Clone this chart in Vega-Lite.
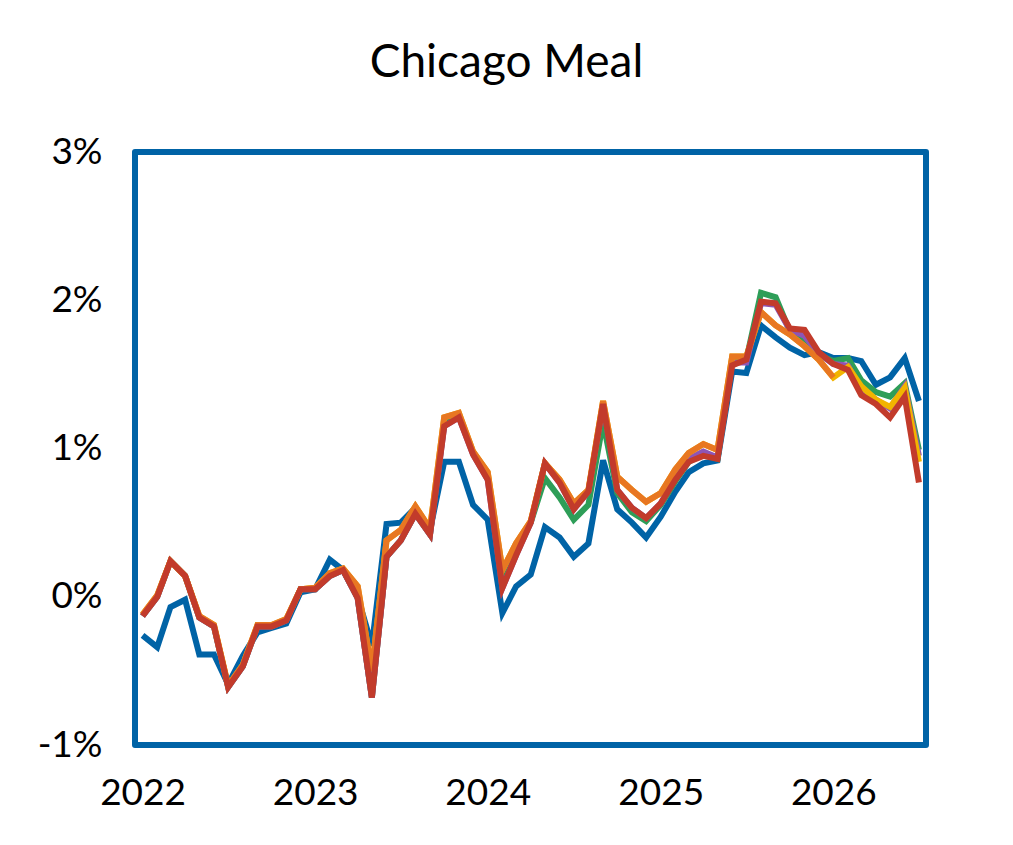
{
  "$schema": "https://vega.github.io/schema/vega-lite/v6.json",
  "description": "Chicago Meal: monthly percentage series, 2022 to mid-2026.",
  "autosize": "none",
  "width": 791,
  "height": 593,
  "padding": {"left": 135, "top": 152, "right": 87, "bottom": 100},
  "background": "white",
  "config": {
    "font": "Lato",
    "view": {"stroke": "#0063a6", "strokeWidth": 6, "strokeJoin": "round"},
    "axis": {
      "labelFont": "Lato",
      "labelFontSize": 37,
      "labelColor": "black",
      "domain": false,
      "ticks": false,
      "grid": false,
      "title": null
    }
  },
  "title": {
    "text": "Chicago Meal",
    "font": "Lato",
    "fontSize": 46,
    "fontWeight": "normal",
    "color": "black",
    "anchor": "middle",
    "offset": 46,
    "dx": -24
  },
  "data": {
    "values": [
      {"date": "2022-01-01", "s1": -0.26, "s2": -0.13, "s3": -0.13, "s4": -0.12, "s5": -0.12, "s6": -0.13},
      {"date": "2022-02-01", "s1": -0.34, "s2": 0.0, "s3": 0.0, "s4": 0.01, "s5": 0.01, "s6": 0.0},
      {"date": "2022-03-01", "s1": -0.07, "s2": 0.24, "s3": 0.24, "s4": 0.24, "s5": 0.24, "s6": 0.24},
      {"date": "2022-04-01", "s1": -0.02, "s2": 0.14, "s3": 0.14, "s4": 0.14, "s5": 0.14, "s6": 0.14},
      {"date": "2022-05-01", "s1": -0.39, "s2": -0.14, "s3": -0.14, "s4": -0.13, "s5": -0.13, "s6": -0.14},
      {"date": "2022-06-01", "s1": -0.39, "s2": -0.2, "s3": -0.2, "s4": -0.19, "s5": -0.19, "s6": -0.2},
      {"date": "2022-07-01", "s1": -0.59, "s2": -0.61, "s3": -0.61, "s4": -0.6, "s5": -0.6, "s6": -0.61},
      {"date": "2022-08-01", "s1": -0.4, "s2": -0.47, "s3": -0.47, "s4": -0.46, "s5": -0.46, "s6": -0.47},
      {"date": "2022-09-01", "s1": -0.24, "s2": -0.2, "s3": -0.2, "s4": -0.19, "s5": -0.19, "s6": -0.2},
      {"date": "2022-10-01", "s1": -0.21, "s2": -0.2, "s3": -0.2, "s4": -0.19, "s5": -0.19, "s6": -0.2},
      {"date": "2022-11-01", "s1": -0.18, "s2": -0.16, "s3": -0.16, "s4": -0.15, "s5": -0.15, "s6": -0.16},
      {"date": "2022-12-01", "s1": 0.03, "s2": 0.05, "s3": 0.05, "s4": 0.05, "s5": 0.05, "s6": 0.05},
      {"date": "2023-01-01", "s1": 0.05, "s2": 0.05, "s3": 0.05, "s4": 0.06, "s5": 0.06, "s6": 0.05},
      {"date": "2023-02-01", "s1": 0.25, "s2": 0.14, "s3": 0.14, "s4": 0.16, "s5": 0.16, "s6": 0.14},
      {"date": "2023-03-01", "s1": 0.18, "s2": 0.18, "s3": 0.18, "s4": 0.19, "s5": 0.19, "s6": 0.18},
      {"date": "2023-04-01", "s1": 0.0, "s2": -0.01, "s3": -0.01, "s4": 0.07, "s5": 0.07, "s6": -0.01},
      {"date": "2023-05-01", "s1": -0.33, "s2": -0.68, "s3": -0.68, "s4": -0.5, "s5": -0.5, "s6": -0.68},
      {"date": "2023-06-01", "s1": 0.49, "s2": 0.27, "s3": 0.27, "s4": 0.38, "s5": 0.38, "s6": 0.27},
      {"date": "2023-07-01", "s1": 0.5, "s2": 0.38, "s3": 0.38, "s4": 0.45, "s5": 0.45, "s6": 0.38},
      {"date": "2023-08-01", "s1": 0.6, "s2": 0.56, "s3": 0.56, "s4": 0.61, "s5": 0.61, "s6": 0.56},
      {"date": "2023-09-01", "s1": 0.45, "s2": 0.42, "s3": 0.42, "s4": 0.46, "s5": 0.46, "s6": 0.42},
      {"date": "2023-10-01", "s1": 0.91, "s2": 1.17, "s3": 1.15, "s4": 1.21, "s5": 1.21, "s6": 1.15},
      {"date": "2023-11-01", "s1": 0.91, "s2": 1.22, "s3": 1.21, "s4": 1.24, "s5": 1.24, "s6": 1.21},
      {"date": "2023-12-01", "s1": 0.62, "s2": 0.97, "s3": 0.96, "s4": 0.98, "s5": 0.98, "s6": 0.96},
      {"date": "2024-01-01", "s1": 0.52, "s2": 0.82, "s3": 0.79, "s4": 0.84, "s5": 0.84, "s6": 0.79},
      {"date": "2024-02-01", "s1": -0.11, "s2": 0.12, "s3": 0.06, "s4": 0.18, "s5": 0.18, "s6": 0.06},
      {"date": "2024-03-01", "s1": 0.07, "s2": 0.32, "s3": 0.28, "s4": 0.36, "s5": 0.36, "s6": 0.28},
      {"date": "2024-04-01", "s1": 0.15, "s2": 0.5, "s3": 0.5, "s4": 0.51, "s5": 0.51, "s6": 0.5},
      {"date": "2024-05-01", "s1": 0.47, "s2": 0.8, "s3": 0.9, "s4": 0.9, "s5": 0.9, "s6": 0.9},
      {"date": "2024-06-01", "s1": 0.4, "s2": 0.67, "s3": 0.77, "s4": 0.79, "s5": 0.79, "s6": 0.77},
      {"date": "2024-07-01", "s1": 0.27, "s2": 0.52, "s3": 0.59, "s4": 0.63, "s5": 0.63, "s6": 0.59},
      {"date": "2024-08-01", "s1": 0.36, "s2": 0.62, "s3": 0.71, "s4": 0.72, "s5": 0.72, "s6": 0.71},
      {"date": "2024-09-01", "s1": 0.92, "s2": 1.18, "s3": 1.3, "s4": 1.32, "s5": 1.32, "s6": 1.3},
      {"date": "2024-10-01", "s1": 0.59, "s2": 0.7, "s3": 0.72, "s4": 0.81, "s5": 0.81, "s6": 0.72},
      {"date": "2024-11-01", "s1": 0.5, "s2": 0.57, "s3": 0.6, "s4": 0.72, "s5": 0.72, "s6": 0.6},
      {"date": "2024-12-01", "s1": 0.4, "s2": 0.51, "s3": 0.53, "s4": 0.64, "s5": 0.64, "s6": 0.53},
      {"date": "2025-01-01", "s1": 0.54, "s2": 0.62, "s3": 0.63, "s4": 0.7, "s5": 0.7, "s6": 0.63},
      {"date": "2025-02-01", "s1": 0.71, "s2": 0.78, "s3": 0.8, "s4": 0.86, "s5": 0.86, "s6": 0.79},
      {"date": "2025-03-01", "s1": 0.84, "s2": 0.91, "s3": 0.93, "s4": 0.97, "s5": 0.97, "s6": 0.91},
      {"date": "2025-04-01", "s1": 0.9, "s2": 0.96, "s3": 0.98, "s4": 1.03, "s5": 1.03, "s6": 0.95},
      {"date": "2025-05-01", "s1": 0.92, "s2": 0.93, "s3": 0.94, "s4": 0.99, "s5": 0.99, "s6": 0.93},
      {"date": "2025-06-01", "s1": 1.52, "s2": 1.6, "s3": 1.58, "s4": 1.62, "s5": 1.62, "s6": 1.56},
      {"date": "2025-07-01", "s1": 1.51, "s2": 1.6, "s3": 1.58, "s4": 1.62, "s5": 1.62, "s6": 1.6},
      {"date": "2025-08-01", "s1": 1.83, "s2": 2.05, "s3": 1.98, "s4": 1.92, "s5": 1.92, "s6": 1.99},
      {"date": "2025-09-01", "s1": 1.75, "s2": 2.02, "s3": 1.97, "s4": 1.83, "s5": 1.83, "s6": 1.98},
      {"date": "2025-10-01", "s1": 1.68, "s2": 1.79, "s3": 1.8, "s4": 1.77, "s5": 1.77, "s6": 1.81},
      {"date": "2025-11-01", "s1": 1.63, "s2": 1.72, "s3": 1.76, "s4": 1.69, "s5": 1.69, "s6": 1.8},
      {"date": "2025-12-01", "s1": 1.65, "s2": 1.63, "s3": 1.64, "s4": 1.6, "s5": 1.6, "s6": 1.65},
      {"date": "2026-01-01", "s1": 1.61, "s2": 1.59, "s3": 1.57, "s4": 1.48, "s5": 1.48, "s6": 1.57},
      {"date": "2026-02-01", "s1": 1.61, "s2": 1.61, "s3": 1.56, "s4": 1.55, "s5": null, "s6": 1.53},
      {"date": "2026-03-01", "s1": 1.59, "s2": 1.46, "s3": 1.4, "s4": 1.42, "s5": null, "s6": 1.36},
      {"date": "2026-04-01", "s1": 1.43, "s2": 1.38, "s3": 1.33, "s4": 1.33, "s5": null, "s6": 1.3},
      {"date": "2026-05-01", "s1": 1.48, "s2": 1.35, "s3": 1.27, "s4": 1.28, "s5": null, "s6": 1.21},
      {"date": "2026-06-01", "s1": 1.61, "s2": 1.44, "s3": 1.42, "s4": 1.41, "s5": null, "s6": 1.35},
      {"date": "2026-07-01", "s1": 1.32, "s2": 0.99, "s3": 0.95, "s4": 0.91, "s5": null, "s6": 0.77}
    ]
  },
  "transform": [
    {"fold": ["s1", "s2", "s3", "s4", "s5", "s6"], "as": ["series", "value"]},
    {"filter": "isValid(datum.value)"}
  ],
  "mark": {"type": "line", "strokeWidth": 6, "clip": true},
  "encoding": {
    "x": {
      "field": "date",
      "type": "temporal",
      "scale": {
        "type": "utc",
        "domain": [
          {"year": 2021, "month": 12, "date": 16, "utc": true},
          {"year": 2026, "month": 7, "date": 16, "utc": true}
        ]
      },
      "axis": {
        "values": [
          {"year": 2022, "month": 1, "date": 1, "utc": true},
          {"year": 2023, "month": 1, "date": 1, "utc": true},
          {"year": 2024, "month": 1, "date": 1, "utc": true},
          {"year": 2025, "month": 1, "date": 1, "utc": true},
          {"year": 2026, "month": 1, "date": 1, "utc": true}
        ],
        "format": "%Y",
        "labelPadding": 30
      }
    },
    "y": {
      "field": "value",
      "type": "quantitative",
      "scale": {"domain": [-1, 3], "nice": false, "zero": false},
      "axis": {
        "values": [-1, 0, 1, 2, 3],
        "labelExpr": "datum.value + '%'",
        "labelPadding": 33
      }
    },
    "color": {
      "field": "series",
      "type": "nominal",
      "scale": {
        "domain": ["s1", "s2", "s3", "s4", "s5", "s6"],
        "range": ["#0063a6", "#2e9e58", "#8e55b5", "#f2b400", "#e87722", "#c23b2b"]
      },
      "legend": null
    }
  }
}
